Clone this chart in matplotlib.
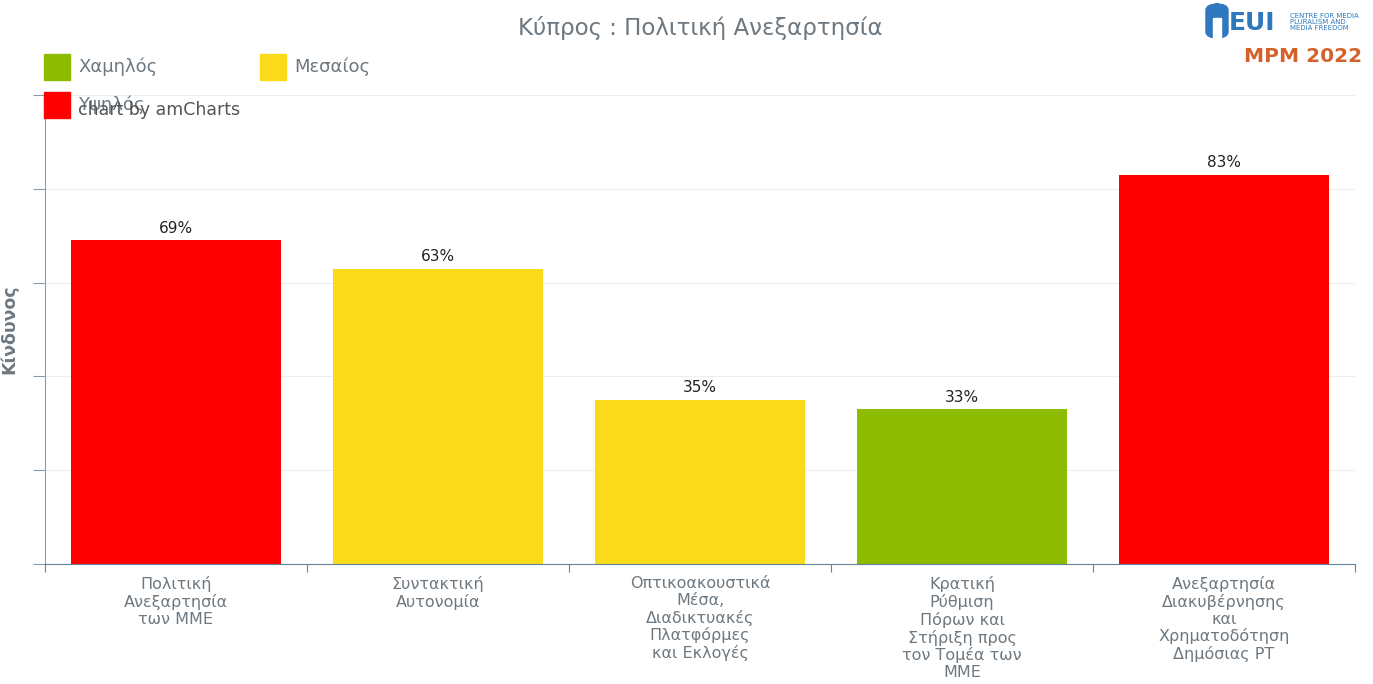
import matplotlib
matplotlib.use("Agg")
import matplotlib.pyplot as plt
from matplotlib.patches import Rectangle, FancyBboxPatch

# data
categories = [
    "Πολιτική\nΑνεξαρτησία\nτων ΜΜΕ",
    "Συντακτική\nΑυτονομία",
    "Οπτικοακουστικά\nΜέσα,\nΔιαδικτυακές\nΠλατφόρμες\nκαι Εκλογές",
    "Κρατική\nΡύθμιση\nΠόρων και\nΣτήριξη προς\nτον Τομέα των\nΜΜΕ",
    "Ανεξαρτησία\nΔιακυβέρνησης\nκαι\nΧρηματοδότηση\nΔημόσιας ΡΤ",
]
values = [69, 63, 35, 33, 83]
risk = ["high", "medium", "medium", "low", "high"]

risk_colors = {"low": "#8CBB00", "medium": "#FADB1A", "high": "#FF0000"}
legend_labels = [("low", "Χαμηλός"), ("medium", "Μεσαίος"), ("high", "Υψηλός")]

grey = "#6E7880"
axis_col = "#5F84A0"

fig = plt.figure(figsize=(13.73, 6.84), dpi=100)
ax = fig.add_axes([45 / 1373, 1 - 564 / 684, 1310 / 1373, 469 / 684])

x = list(range(len(values)))
ax.bar(x, values, width=0.8, color=[risk_colors[r] for r in risk], zorder=2)
for xi, v in zip(x, values):
    ax.text(xi, v + 1.0, f"{v}%", ha="center", va="bottom", fontsize=11,
            color="#222222")

ax.set_xlim(-0.5, len(values) - 0.5)
ax.set_ylim(0, 100)
ax.set_yticks([0, 20, 40, 60, 80, 100])
ax.set_yticklabels([])
ax.set_xticks([i - 0.5 for i in range(len(values) + 1)])
ax.set_xticklabels([])
ax.set_xticks(x, minor=True)
ax.set_xticklabels(categories, minor=True, fontsize=11.5, color=grey,
                   linespacing=1.13, va="top")
ax.tick_params(axis="x", which="minor", length=0, pad=9)
ax.tick_params(axis="x", which="major", length=6, direction="out", color=axis_col)
ax.tick_params(axis="y", length=9, direction="out", color="#8a9aa6")
ax.grid(axis="y", color="#EEEEEE", linewidth=0.8, zorder=0)
for s in ["top", "right"]:
    ax.spines[s].set_visible(False)
ax.spines["bottom"].set_color(axis_col)
ax.spines["left"].set_color("#8a9aa6")
ax.set_ylabel("Κίνδυνος", fontsize=12.5, fontweight="bold", color=grey)
ax.yaxis.set_label_coords(-27 / 1310, 0.5)

fig.text(700 / 1373, 1 - 28 / 684, "Κύπρος : Πολιτική Ανεξαρτησία", ha="center",
         va="center", fontsize=16.5, color=grey)

# legend
leg_pos = [(44, 54), (260, 54), (44, 92)]
for (key, lab), (lx, ly) in zip(legend_labels, leg_pos):
    fig.patches.append(Rectangle((lx / 1373, 1 - (ly + 26) / 684), 26 / 1373, 26 / 684,
                                 transform=fig.transFigure, color=risk_colors[key]))
    fig.text((lx + 34) / 1373, 1 - (ly + 13) / 684, lab, ha="left", va="center",
             fontsize=13, color=grey)
fig.text(78 / 1373, 1 - 110 / 684, "chart by amCharts", ha="left", va="center",
         fontsize=12.5, color="#555555")

# logo
logo_blue = "#2E78BE"
fig.patches.append(FancyBboxPatch((1206 / 1373, 1 - 38 / 684), 22 / 1373, 34 / 684,
                                  boxstyle="round,pad=0,rounding_size=0.009",
                                  transform=fig.transFigure, color=logo_blue))
fig.patches.append(Rectangle((1213 / 1373, 1 - 38 / 684), 8 / 1373, 20 / 684,
                             transform=fig.transFigure, color="white"))
fig.text(1229 / 1373, 1 - 23 / 684, "EUI", ha="left", va="center", fontsize=18,
         fontweight="bold", color=logo_blue)
fig.text(1290 / 1373, 1 - 22 / 684, "CENTRE FOR MEDIA\nPLURALISM AND\nMEDIA FREEDOM",
         ha="left", va="center", fontsize=5, color=logo_blue, linespacing=1.0)
fig.text(1303 / 1373, 1 - 56 / 684, "MPM 2022", ha="center", va="center",
         fontsize=14.5, fontweight="bold", color="#D2622A")

fig.savefig("out.png", dpi=100)
